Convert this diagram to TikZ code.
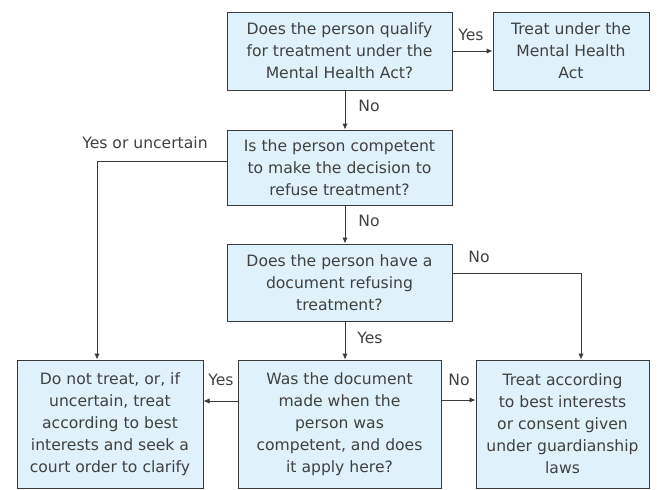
\documentclass[tikz,border=0pt]{standalone}
\usepackage{fontspec}
\setmainfont{DejaVu Sans}
\usetikzlibrary{arrows.meta}
\definecolor{boxfill}{HTML}{DFF1FA}
\definecolor{boxline}{HTML}{3A3A3A}
\definecolor{txt}{HTML}{404040}
\begin{document}
\begin{tikzpicture}[x=1pt, y=-1pt,
		question/.style = {draw=boxline, fill=boxfill, line width=1pt, align=center, text=txt,
			inner sep=0pt, font=\fontsize{15.6}{22}\selectfont},
		flow/.style = {draw=boxline, line width=1pt, -{Latex[length=6pt, width=5.5pt]}},
		tag/.style = {text=txt, font=\fontsize{15.6}{18}\selectfont, inner sep=0pt}]
		\useasboundingbox (0,0) rectangle (657,490);
		
		\node[question, minimum width=225pt, minimum height=78pt] (qualify) at (339.5, 51) {Does the person qualify\\for treatment under the\\Mental Health Act?};
		\node[question, minimum width=156pt, minimum height=78pt] (mha) at (571, 51) {Treat under the\\Mental Health\\Act};
		\node[question, minimum width=225pt, minimum height=75pt] (competent) at (339.5, 167.5) {Is the person competent\\to make the decision to\\refuse treatment?};
		\node[question, minimum width=225pt, minimum height=77pt] (document) at (339.5, 282.5) {Does the person have a\\document refusing\\treatment?};
		\node[question, minimum width=186pt, minimum height=128pt] (donot) at (110, 424) {Do not treat, or, if\\uncertain, treat\\according to best\\interests and seek a\\court order to clarify};
		\node[question, minimum width=203pt, minimum height=128pt] (valid) at (339.5, 424) {Was the document\\made when the\\person was\\competent, and does\\it apply here?};
		\node[question, minimum width=173pt, minimum height=128pt] (best) at (562.5, 424) {Treat according\\to best interests\\or consent given\\under guardianship\\laws};
		
		\coordinate (midline) at (345, 0);
		\coordinate (leftline) at (97, 0);
		\coordinate (rightline) at (581, 0);
		
		\draw[flow] (qualify) -- (mha);
		\draw[flow] (qualify.south -| midline) -- (competent.north -| midline);
		\draw[flow] (competent.south -| midline) -- (document.north -| midline);
		\draw[flow] (document.south -| midline) -- (valid.north -| midline);
		\draw[flow] ([yshift=6.5pt]competent.west) -| (donot.north -| leftline);
		\draw[flow] ([yshift=9.5pt]document.east) -| (best.north -| rightline);
		\draw[flow] ([yshift=23pt]valid.west) -- ([yshift=23pt]donot.east);
		\draw[flow] ([yshift=24pt]valid.east) -- ([yshift=24pt]best.west);
		
		\node[tag] (yes1) at (471, 35) {Yes};
		\node[tag] (no1) at (369, 106) {No};
		\node[tag] (unsure) at (145, 143) {Yes or uncertain};
		\node[tag] (no2) at (369, 221) {No};
		\node[tag] (no3) at (479, 257) {No};
		\node[tag] (yes2) at (370, 338) {Yes};
		\node[tag] (yes3) at (221, 380) {Yes};
		\node[tag] (no4) at (459, 380) {No};
	\end{tikzpicture}
\end{document}
